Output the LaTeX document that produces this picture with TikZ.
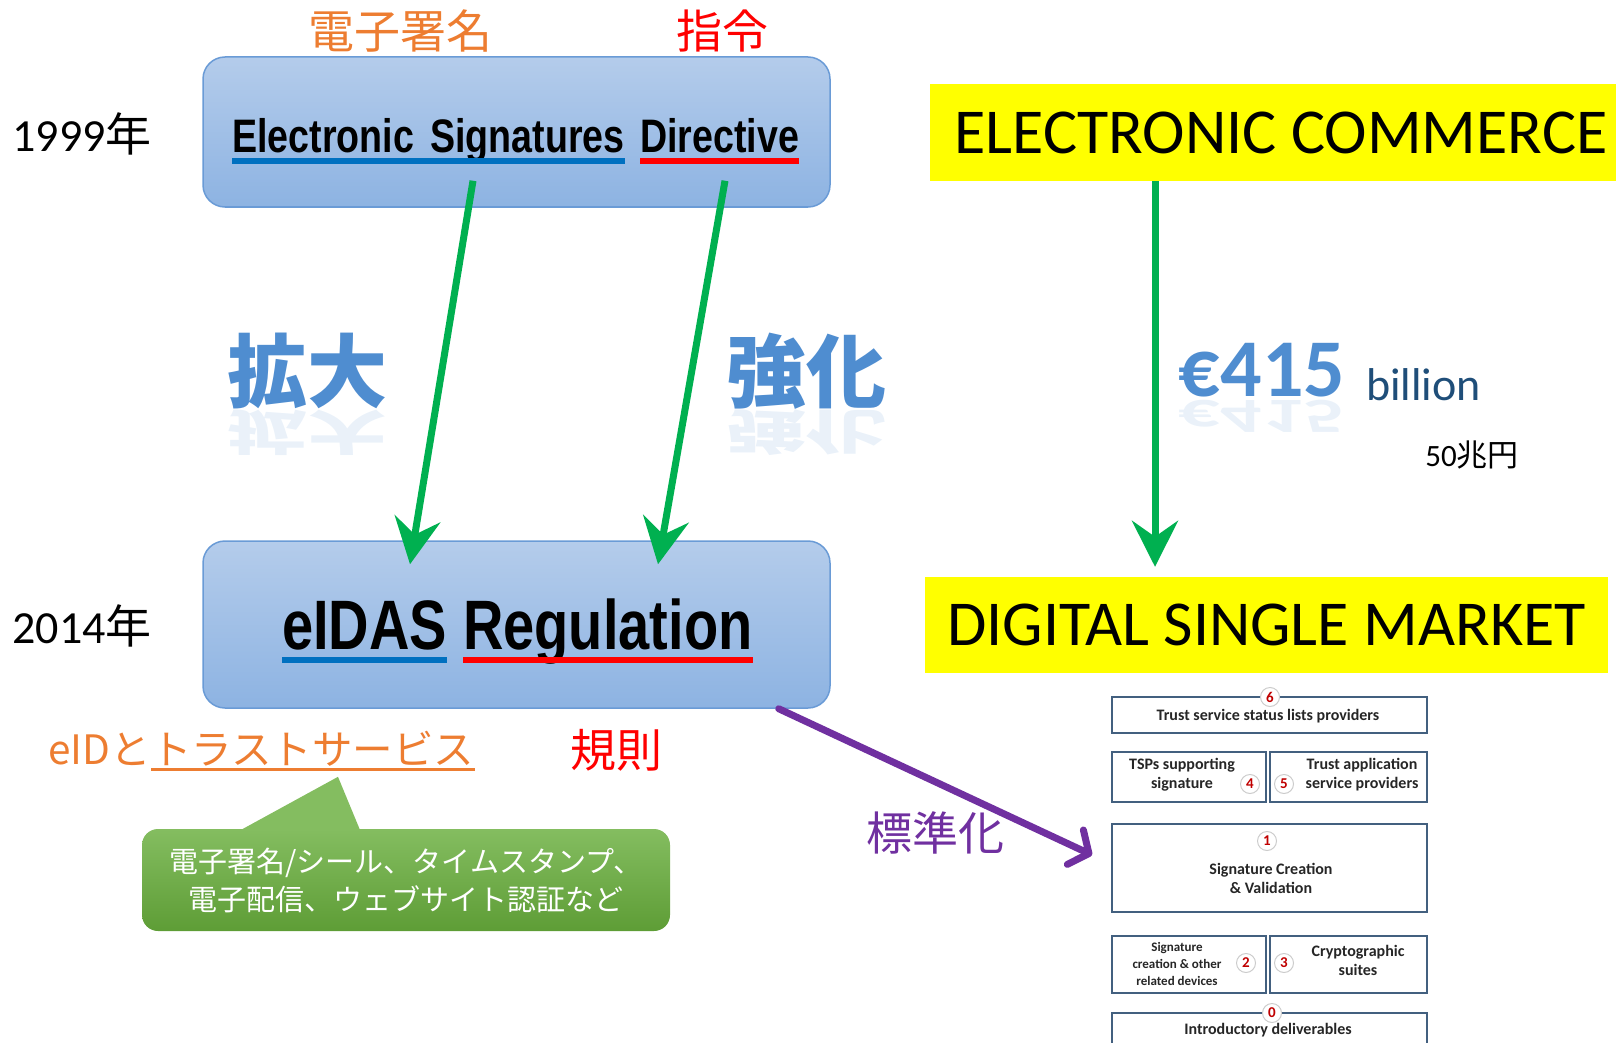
\documentclass[tikz,border=0pt]{standalone}
\usepackage{fontspec}
\usepackage{graphicx}
\setmainfont{Carlito}
\newfontfamily\jpfont{Noto Sans CJK JP}
\newfontfamily\narrowfont[FakeStretch=0.8]{Liberation Sans}
\usetikzlibrary{arrows.meta, positioning, calc, backgrounds}
\definecolor{boxtop}{HTML}{B4CCEB}
\definecolor{boxbot}{HTML}{8DB3E2}
\definecolor{boxline}{HTML}{6A9BD6}
\definecolor{arrowgreen}{HTML}{00B050}
\definecolor{stdpurple}{HTML}{7030A0}
\definecolor{sigorange}{HTML}{ED7D31}
\definecolor{ulblue}{HTML}{0070C0}
\definecolor{ulred}{HTML}{FF0000}
\definecolor{mktyellow}{HTML}{FFFF00}
\definecolor{wordblue}{HTML}{4F8DD0}
\definecolor{billblue}{HTML}{1F4E79}
\definecolor{calltop}{HTML}{84BD60}
\definecolor{callbot}{HTML}{5E9D36}
\definecolor{fwline}{HTML}{43607F}
\definecolor{fwred}{HTML}{C00000}
\newcommand{\jp}[1]{{\jpfont #1}}
\tikzset{
  regbox/.style={rectangle, draw=boxline, top color=boxtop, bottom color=boxbot,
                 line width=1.5pt, rounded corners=22pt, minimum width=627pt},
  esdtext/.style={font=\narrowfont\bfseries\fontsize{47}{50}\selectfont,
                  inner sep=0pt, anchor=base west},
  eidtext/.style={font=\narrowfont\bfseries\fontsize{70}{72}\selectfont,
                  inner sep=0pt, anchor=base west},
  yearlab/.style={font=\fontsize{46}{50}\selectfont, inner sep=0pt},
  jplab/.style={font=\jpfont\fontsize{46}{50}\selectfont, inner sep=0pt},
  bigword/.style={font=\jpfont\bfseries\fontsize{80}{84}\selectfont, text=wordblue, inner sep=0pt},
  mktbox/.style={rectangle, fill=mktyellow, inner sep=0pt,
                 font=\fontsize{64}{66}\selectfont},
  underl/.style={line width=6pt},
  growarrow/.style={-{Stealth[length=46pt, width=46pt, inset=16pt]},
                    line width=7pt, draw=arrowgreen},
  stdarrow/.style={-{Straight Barb[length=15pt, width=38pt, round]},
                   line width=7pt, draw=stdpurple, line cap=round},
  callbox/.style={rectangle, rounded corners=16pt, top color=calltop, bottom color=callbot,
                  text=white, align=center, font=\jpfont\fontsize{29}{38}\selectfont},
  fwbox/.style={rectangle, draw=fwline, line width=1.8pt, fill=white, inner sep=0pt},
  fwtext/.style={font=\bfseries\fontsize{16}{19}\selectfont, align=center,
                 text=black!85, inner sep=0pt},
  fwnum/.style={circle, draw=black!20, fill=white, line width=1pt, inner sep=0pt,
                minimum size=19pt, font=\bfseries\fontsize{15}{15}\selectfont, text=fwred},
}

\begin{document}
\begin{tikzpicture}[x=1pt, y=-1pt]
  \useasboundingbox (0,0) rectangle (1616,1043);
  \clip (0,0) rectangle (1616,1043);

  % --- years ---
  \node[yearlab] (y1999) at (82,134) {1999\jp{年}};
  \node[yearlab] (y2014) at (82,626) {2014\jp{年}};

  % --- 1999 directive ---
  \node[regbox, minimum height=150pt] (esd) at (516.5,132) {};
  \node[esdtext] (esdsig) at (232,153) {Electronic\hspace{0.35em}Signatures};
  \node[esdtext] (esddir) at (640,153) {Directive};
  \draw[underl, ulblue] ([yshift=-8pt]esdsig.base west) -- ([yshift=-8pt]esdsig.base east);
  \draw[underl, ulred]  ([yshift=-8pt]esddir.base west) -- ([yshift=-8pt]esddir.base east);
  \node[jplab, text=sigorange] (sigjp) at (400,31) {電子署名};
  \node[jplab, text=ulred] (dirjp) at (722,31) {指令};

  % --- 2014 regulation ---
  \node[regbox, minimum height=167pt] (eidas) at (516.5,624.5) {};
  \node[eidtext] (eidasw) at (282,649) {eIDAS};
  \node[eidtext] (regw) at (463,649) {Regulation};
  \draw[underl, ulblue] ([yshift=-11pt]eidasw.base west) -- ([yshift=-11pt]eidasw.base east);
  \draw[underl, ulred]  ([yshift=-11pt]regw.base west) -- ([yshift=-11pt]regw.base east);

  \node[jplab, font=\jpfont\fontsize{40.5}{44}\selectfont, text=sigorange, anchor=base west] (eidto) at (48,764) {eIDと};
  \node[jplab, font=\jpfont\fontsize{40.5}{44}\selectfont, text=sigorange, anchor=base west] (trust) at (eidto.base east) {トラストサービス};
  \draw[line width=3pt, sigorange] ([yshift=-5pt]trust.base west) -- ([yshift=-5pt]trust.base east);
  \node[jplab, text=ulred] (rulejp) at (616,750) {規則};

  % --- growth words with a faint mirror ---
  \node[bigword] (expand) at (307,371) {拡大};
  \node[bigword, text opacity=0.12, anchor=north] (expandm) at (307,410) {\scalebox{1}[-0.6]{拡大}};
  \node[bigword] (strong) at (806,371) {強化};
  \node[bigword, text opacity=0.12, anchor=north] (strongm) at (806,410) {\scalebox{1}[-0.6]{強化}};

  \draw[growarrow] ([xshift=-43.5pt, yshift=27pt]esd.south) -- ([xshift=-106.5pt, yshift=-24pt]eidas.north);
  \draw[growarrow] ([xshift=208.5pt, yshift=27pt]esd.south) -- ([xshift=141.5pt, yshift=-24pt]eidas.north);

  % --- market boxes ---
  \node[mktbox, minimum width=686pt, minimum height=97pt] (ecomm) at (1273,132.5) {\hspace{16pt}ELECTRONIC COMMERCE};
  \node[mktbox, minimum width=683pt, minimum height=96pt] (dsm) at (1266.5,625) {DIGITAL SINGLE MARKET};
  \draw[growarrow] ([xshift=-118pt]ecomm.south) -- ([xshift=-111.5pt, yshift=10pt]dsm.north);

  \node[font=\bfseries\fontsize{82}{84}\selectfont, text=wordblue, inner sep=0pt] (euro) at (1262,370) {€415};
  \node[font=\bfseries\fontsize{82}{84}\selectfont, text=wordblue, text opacity=0.12, inner sep=0pt, anchor=north]
       (eurom) at (1262,400) {\scalebox{1}[-0.6]{€415}};
  \node[font=\fontsize{46}{48}\selectfont, text=billblue, inner sep=0pt, anchor=base west] (bill) at (1366,400) {billion};
  \node[font=\fontsize{31}{33}\selectfont, inner sep=0pt] (yen) at (1472,455) {50\jp{兆円}};

  % --- callout under the trust services ---
  \node[callbox, minimum width=528pt, minimum height=102pt] (svc) at (406,880)
       {電子署名/シール、タイムスタンプ、\\電子配信、ウェブサイト認証など};
  \begin{scope}[on background layer]
    \fill[calltop] ([xshift=-174pt, yshift=-6pt]svc.north) -- ([xshift=-68pt, yshift=52pt]svc.north)
                   -- ([xshift=-44pt, yshift=-6pt]svc.north) -- cycle;
  \end{scope}

  % --- standardisation framework ---
  \node[fwbox, minimum width=315pt, minimum height=36pt] (fw6) at (1269.5,715) {};
  \node[fwbox, minimum width=154pt, minimum height=50pt] (fw4) at (1189,777) {};
  \node[fwbox, minimum width=157pt, minimum height=50pt] (fw5) at (1348.5,777) {};
  \node[fwbox, minimum width=315pt, minimum height=88pt] (fw1) at (1269.5,868) {};
  \node[fwbox, minimum width=154pt, minimum height=57pt] (fw2) at (1189,964.5) {};
  \node[fwbox, minimum width=157pt, minimum height=57pt] (fw3) at (1348.5,964.5) {};
  \node[fwbox, minimum width=315pt, minimum height=48pt] (fw0) at (1269.5,1037) {};

  \node[fwtext] (fw6t) at (1268,716) {Trust service status lists providers};
  \node[fwtext] (fw4t) at (1182,775) {TSPs supporting\\signature};
  \node[fwtext] (fw5t) at (1362,775) {Trust application\\service providers};
  \node[fwtext] (fw1t) at (1271,878) {Signature Creation\\\& Validation};
  \node[fwtext, font=\bfseries\fontsize{13}{17}\selectfont] (fw2t) at (1177,964) {Signature\\creation \& other\\related devices};
  \node[fwtext] (fw3t) at (1358,960) {Cryptographic\\suites};
  \node[fwtext] (fw0t) at (1268,1030) {Introductory deliverables};

  \node[fwnum] (n6) at (1270,697) {6};
  \node[fwnum] (n4) at (1250,784) {4};
  \node[fwnum] (n5) at (1284,784) {5};
  \node[fwnum] (n1) at (1267,841) {1};
  \node[fwnum] (n2) at (1246,963) {2};
  \node[fwnum] (n3) at (1284,963) {3};
  \node[fwnum] (n0) at (1272,1013) {0};

  \draw[stdarrow] ([xshift=-52pt]eidas.south east) -- ([xshift=-19pt, yshift=13pt]fw1.west);
  \node[jplab, text=stdpurple] (stdjp) at (935,833) {標準化};

\end{tikzpicture}
\end{document}
